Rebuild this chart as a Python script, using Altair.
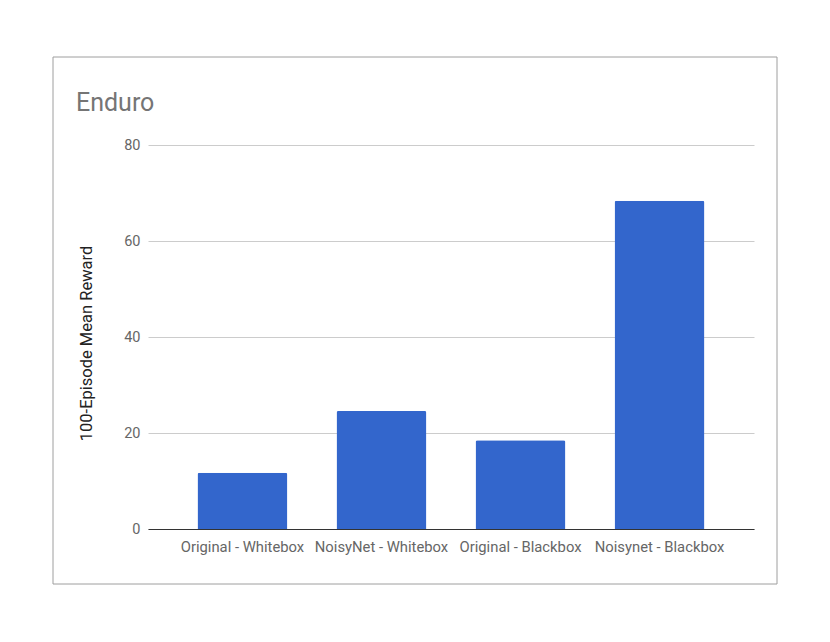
import altair as alt
import pandas as pd

categories = ["Original - Whitebox", "NoisyNet - Whitebox", "Original - Blackbox", "Noisynet - Blackbox"]
rewards = [11.7, 24.6, 18.5, 68.4]
chart_title = "Enduro"
y_title = "100-Episode Mean Reward"
y_ticks = [0, 20, 40, 60, 80]

df = pd.DataFrame({"category": categories, "reward": rewards})

W, H = 606, 384

bars = alt.Chart(df).mark_bar(
    color="#3366cc", cornerRadiusTopLeft=2, cornerRadiusTopRight=2
).encode(
    x=alt.X("category:N", sort=categories,
            scale=alt.Scale(paddingInner=0.353, paddingOuter=0.356),
            axis=alt.Axis(title=None, labelAngle=0, labelFont="Roboto", labelFontSize=14.8,
                          labelColor="#666666", labelPadding=10, ticks=False,
                          domainColor="#333333", domainWidth=1, grid=False)),
    y=alt.Y("reward:Q", scale=alt.Scale(domain=[0, 80], nice=False),
            axis=alt.Axis(values=y_ticks, title=y_title, titleFont="Roboto", titleFontSize=16.5,
                          titleFontWeight="normal", titleColor="#222222",
                          titleX=-62, titleY=H / 2 + 6, titleAngle=-90,
                          titleAlign="center", titleBaseline="middle",
                          labelFont="Roboto", labelFontSize=14.5, labelColor="#666666",
                          labelPadding=8, ticks=False, domain=False,
                          grid=True, gridColor="#cccccc", gridWidth=1)),
)

border = alt.Chart(pd.DataFrame({"a": [0]})).mark_rect(
    fill=None, stroke="#9e9e9e", strokeWidth=1
).encode(
    x=alt.value(-95), x2=alt.value(629), y=alt.value(-88), y2=alt.value(439)
)

title = alt.Chart(pd.DataFrame({"t": [chart_title]})).mark_text(
    align="left", baseline="alphabetic", font="Roboto", fontSize=25, color="#757575"
).encode(x=alt.value(-72), y=alt.value(-34), text="t:N")

chart = alt.layer(border, bars, title).properties(
    width=W, height=H,
    autosize=alt.AutoSizeParams(type="none"),
    padding={"left": 140, "top": 137, "right": 60, "bottom": 90},
).configure(background="white").configure_view(stroke=None, strokeWidth=0)

chart.save("out.html", embed_options={"renderer": "svg", "actions": False})
